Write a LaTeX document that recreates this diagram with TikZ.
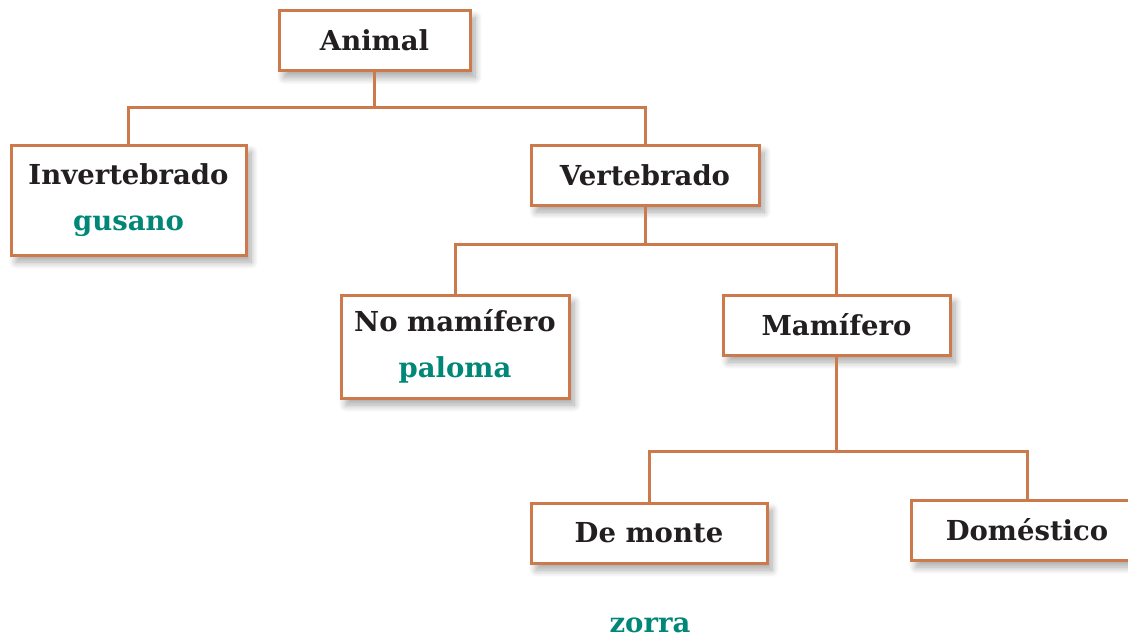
\documentclass[tikz,border=0pt]{standalone}
\usepackage{fontspec}
\setmainfont{DejaVu Serif}
\usetikzlibrary{positioning, shadows.blur}
\definecolor{boxorange}{RGB}{204,122,76}
\definecolor{nameteal}{RGB}{0,135,120}
\definecolor{textdark}{RGB}{35,31,32}

\begin{document}
\begin{tikzpicture}[x=1pt, y=-1pt, font=\fontsize{27.5}{46}\selectfont\bfseries,
	group/.style={draw=boxorange, line width=3pt, fill=white, text=textdark, align=center,
		inner sep=0pt, minimum height=60pt,
		blur shadow={shadow xshift=5pt, shadow yshift=-7pt, shadow blur radius=7pt, shadow blur steps=12, shadow opacity=35}},
	link/.style={draw=boxorange, line width=3pt}]
	\useasboundingbox (0,0) rectangle (1128,637);

	\node[group, minimum width=191pt] (animal) at (374.5,40.5) {Animal};
	\node[group, minimum width=235pt, minimum height=110pt] (invert) at (128.5,200) {Invertebrado\\ \textcolor{nameteal}{gusano}};
	\node[group, minimum width=228pt] (vert) at (645,175) {Vertebrado};
	\node[group, minimum width=228pt, minimum height=103pt] (nomamif) at (455,346.5) {No mamífero\\ \textcolor{nameteal}{paloma}};
	\node[group, minimum width=227pt] (mamif) at (836.5,325) {Mamífero};
	\node[group, minimum width=236pt] (monte) at (649,533) {De monte};
	\node[group, minimum width=232pt] (domest) at (1027,530) {Doméstico};
	\node[text=nameteal, anchor=base] (zorra) at (650,632) {zorra};

	\draw[link] (animal.south) -- ++(0,35) -| (invert.north);
	\draw[link] (animal.south) -- ++(0,35) -| (vert.north);

	\draw[link] (vert.south) -- ++(0,38) -| (nomamif.north);
	\draw[link] (vert.south) -- ++(0,38) -| (mamif.north);

	\draw[link] (mamif.south) -- ++(0,95) -| (monte.north);
	\draw[link] (mamif.south) -- ++(0,95) -| (domest.north);
\end{tikzpicture}
\end{document}
